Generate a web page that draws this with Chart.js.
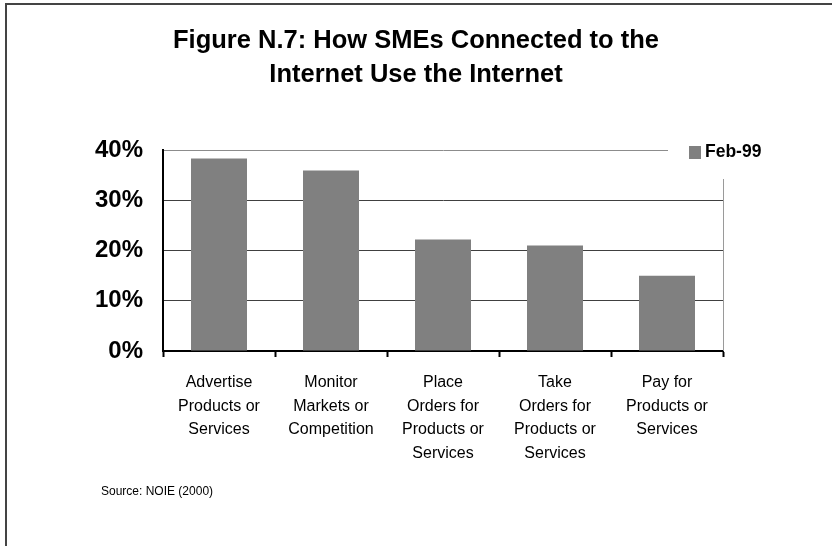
<!DOCTYPE html>
<html>
<head>
<meta charset="utf-8">
<script src="https://cdn.jsdelivr.net/npm/chart.js@4.4.1/dist/chart.umd.min.js"></script>
<style>
  html, body { margin: 0; padding: 0; background: #ffffff; }
  #wrap { position: relative; width: 832px; height: 546px; }
</style>
</head>
<body>
<div id="wrap"><canvas id="chart"></canvas></div>
<script>
// Share of SMEs connected to the Internet, by use of the Internet (Feb-99)
const categories = [
  ['Advertise', 'Products or', 'Services'],
  ['Monitor', 'Markets or', 'Competition'],
  ['Place', 'Orders for', 'Products or', 'Services'],
  ['Take', 'Orders for', 'Products or', 'Services'],
  ['Pay for', 'Products or', 'Services']
];
const seriesLabel = 'Feb-99';
const seriesValues = [38.3, 35.9, 22.2, 21.0, 15.0];
const yTickValues = [0, 10, 20, 30, 40];
const chartTitle = ['Figure N.7: How SMEs Connected to the', 'Internet Use the Internet'];
const sourceNote = 'Source: NOIE (2000)';

const FONT = "'Liberation Sans', Arial, Helvetica, sans-serif";
const BAR_GREY = '#808080';

// Outer frame, plot-area right edge, legend box and source note
const decorations = {
  id: 'decorations',
  afterDraw(chart) {
    const ctx = chart.ctx;
    const area = chart.chartArea;
    ctx.save();

    // frame (top and left edges)
    ctx.fillStyle = '#444444';
    ctx.fillRect(5, 3, chart.width - 5, 2);
    ctx.fillRect(5, 3, 2, chart.height - 3);

    // legend box
    const boxLeft = area.right - 55;
    const boxTop = area.top - 24;
    const boxBottom = area.top + 29;
    ctx.fillStyle = '#ffffff';
    ctx.fillRect(boxLeft, boxTop, 110, boxBottom - boxTop);

    // plot-area right edge below the legend box
    ctx.strokeStyle = '#9a9a9a';
    ctx.lineWidth = 1;
    ctx.beginPath();
    ctx.moveTo(Math.round(area.right) + 0.5, boxBottom);
    ctx.lineTo(Math.round(area.right) + 0.5, area.bottom);
    ctx.stroke();

    const ds = chart.data.datasets[0];
    ctx.fillStyle = ds.backgroundColor;
    ctx.fillRect(area.right - 34, area.top - 4, 12, 13);
    ctx.fillStyle = '#000000';
    ctx.font = 'bold 17.5px ' + FONT;
    ctx.textAlign = 'left';
    ctx.textBaseline = 'middle';
    ctx.fillText(ds.label, area.right - 18, area.top + 2.5);

    // source note
    ctx.font = '12px ' + FONT;
    ctx.fillText(sourceNote, area.left - 62, area.bottom + 141);
    ctx.restore();
  }
};

new Chart(document.getElementById('chart'), {
  type: 'bar',
  data: {
    labels: categories,
    datasets: [{
      label: seriesLabel,
      data: seriesValues,
      backgroundColor: BAR_GREY,
      borderWidth: 0,
      barPercentage: 0.5,
      categoryPercentage: 1.0,
      yAxisID: 'y'
    }]
  },
  options: {
    responsive: true,
    maintainAspectRatio: false,
    animation: false,
    layout: { padding: 0 },
    plugins: {
      legend: { display: false },
      tooltip: { enabled: false },
      title: {
        display: true,
        text: chartTitle,
        color: '#000000',
        font: { family: FONT, size: 25.5, weight: 'bold', lineHeight: '34px' },
        padding: { top: 24, bottom: 58 }
      }
    },
    scales: {
      x: {
        grid: {
          display: true,
          offset: true,
          drawOnChartArea: false,
          drawTicks: true,
          tickLength: 6,
          tickWidth: 2,
          tickColor: '#000000'
        },
        border: { display: true, color: '#000000', width: 2 },
        ticks: {
          color: '#000000',
          padding: 14,
          maxRotation: 0,
          autoSkip: false,
          font: { family: FONT, size: 16, lineHeight: '23.5px' }
        },
        afterFit(scale) { scale.height = 546 - 351; }
      },
      y: {
        min: 0,
        max: 40,
        afterBuildTicks(scale) { scale.ticks = yTickValues.map(v => ({ value: v })); },
        grid: {
          drawTicks: false,
          lineWidth: 1,
          color: ctx => (ctx.tick && ctx.tick.value === 40 ? '#8c8c8c' : '#404040')
        },
        border: { display: true, color: '#000000', width: 2 },
        ticks: {
          color: '#000000',
          padding: 20,
          font: { family: FONT, size: 24, weight: 'bold' },
          callback: v => v + '%'
        },
        afterFit(scale) { scale.width = 163; }
      },
      // empty right-hand margin that holds the legend
      margin: {
        type: 'linear',
        position: 'right',
        min: 0,
        max: 1,
        grid: { display: false },
        border: { display: false },
        ticks: { display: false },
        afterFit(scale) { scale.width = 832 - 723; }
      }
    }
  },
  plugins: [decorations]
});
</script>
</body>
</html>
